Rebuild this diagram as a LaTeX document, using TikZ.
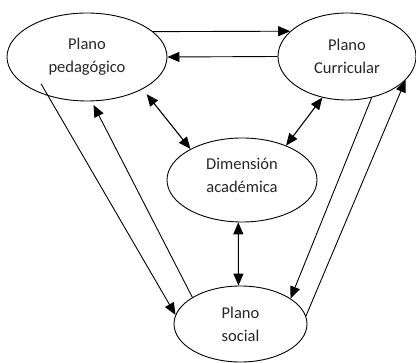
\documentclass[tikz,border=0pt]{standalone}
\usepackage{fontspec}
\setmainfont{Carlito}
\usetikzlibrary{arrows.meta,shapes.geometric}
\begin{document}
\begin{tikzpicture}[x=1pt,y=-1pt,
  txt/.style={align=center, font=\fontsize{16.5}{23}\selectfont, text=black!85},
  ell/.style={draw, line width=0.9pt, ellipse, inner sep=0pt, txt},
  arr/.style={line width=0.9pt, -{Triangle[length=12pt,width=10pt]}},
  darr/.style={line width=1.1pt, {Triangle[length=12pt,width=10pt]}-{Triangle[length=12pt,width=10pt]}}]
\useasboundingbox (0,0) rectangle (416,363);
\node[ell, minimum width=160pt, minimum height=88pt] (pp) at (87,57) {Plano\\pedagógico};
\node[ell, minimum width=138pt, minimum height=87pt] (pc) at (347,56.5) {Plano\\Curricular};
\node[ell, minimum width=150pt, minimum height=84pt,
  label={[txt, yshift=5pt]center:Dimensión\\académica}] (dim) at (242,180) {};
\node[ell, minimum width=133pt, minimum height=76pt] (social) at (240.5,324) {Plano\\social};
\draw[arr] (pp.21.6) -- (pc.156);
\draw[arr] (pc.180) -- (pp.0);
\draw[darr, shorten <=6.5pt] (pp.-30) -- (dim.149);
\draw[darr] (pc.-121) -- (dim.38);
\draw[darr] (dim.-95.4) -- (social.93.8);
\draw[arr, shorten <=-14pt] (pp.-135.4) -- (social.172);
\draw[arr, shorten >=4pt] (social.151) -- (pp.-84.6);
\draw[arr] (pc.-59.7) -- (social.27.7);
\draw[arr] (social.7.9) -- (pc.-22);
\end{tikzpicture}
\end{document}
